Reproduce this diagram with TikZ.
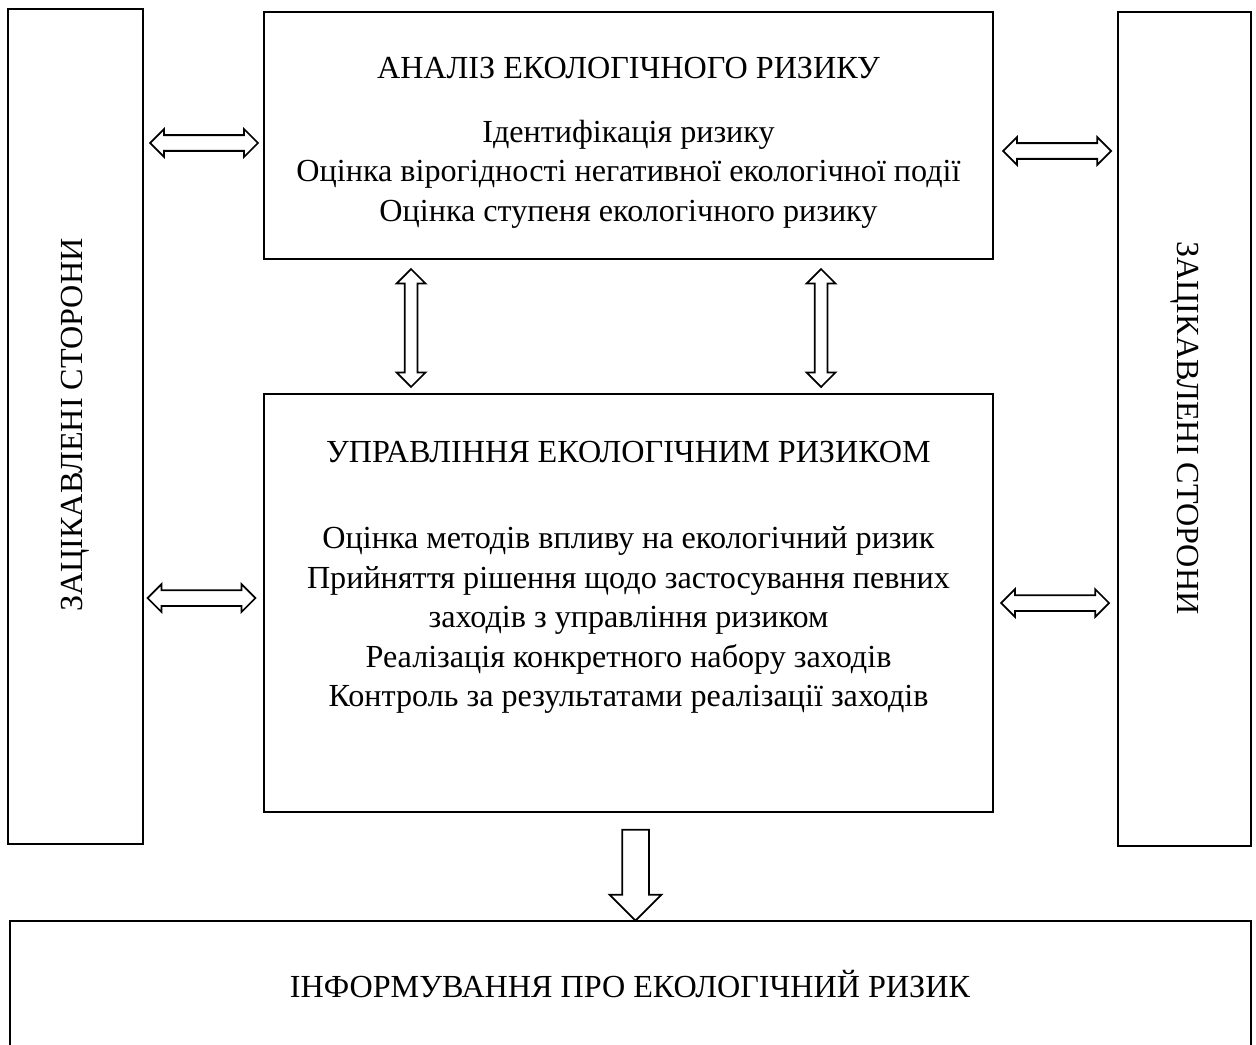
\documentclass[tikz,border=0pt]{standalone}
\usepackage{fontspec}
\setmainfont{Liberation Serif}
\usetikzlibrary{positioning,fit,shapes.arrows}
\tikzset{
  boxb/.style={draw=black, line width=1.1pt, inner sep=0pt},
  txtb/.style={align=center, inner sep=0pt, font=\fontsize{18.3}{22.5}\selectfont},
  harr/.style={draw=black, line width=1pt, double arrow, double arrow head extend=1.2mm,
    inner xsep=0pt, inner ysep=1.4mm, minimum width=0pt, minimum height=21.6mm},
  varr/.style={harr, rotate=90, inner ysep=1.1mm, double arrow head extend=1.6mm,
    minimum height=23.6mm},
  downarr/.style={draw=black, line width=1pt, single arrow, single arrow head extend=2.5mm,
    inner xsep=0pt, inner ysep=2.5mm, minimum width=0pt, minimum height=18.2mm, rotate=-90},
}
\begin{document}
\begin{tikzpicture}[x=0.02cm, y=-0.02cm]
    \path[use as bounding box, clip] (0,0) rectangle (1256,1044);
    \fill[white] (0,0) rectangle (1256,1044);
    % side boxes
    \node[boxb, fit={(8,9) (143,844)}] (lside) {};
    \node[boxb, fit={(1118,12) (1251,846)}] (rside) {};
    \node[txtb, rotate=90] (ltxt) at (75.5,425) {ЗАЦІКАВЛЕНІ СТОРОНИ};
    \node[txtb, rotate=-90] (rtxt) at (1184.5,428) {ЗАЦІКАВЛЕНІ СТОРОНИ};
    % analysis
    \node[boxb, fit={(264,12) (993,259)}] (anal) {};
    \node[txtb] (analt) at (628.5,68) {АНАЛІЗ ЕКОЛОГІЧНОГО РИЗИКУ};
    \node[txtb] (anall) at (628.5,174) {Ідентифікація ризику\\Оцінка вірогідності негативної екологічної події\\Оцінка ступеня екологічного ризику};
    % management
    \node[boxb, fit={(264,394) (993,812)}] (mgmt) {};
    \node[txtb] (mgmtt) at (628.5,452) {УПРАВЛІННЯ ЕКОЛОГІЧНИМ РИЗИКОМ};
    \node[txtb] (mgmtl) at (628.5,620) {Оцінка методів впливу на екологічний ризик\\Прийняття рішення щодо застосування певних\\заходів з управління ризиком\\Реалізація конкретного набору заходів\\Контроль за результатами реалізації заходів};
    % information
    \node[boxb, fit={(10,921) (1251,1060)}] (info) {};
    \node[txtb] (infot) at (630,984) {ІНФОРМУВАННЯ ПРО ЕКОЛОГІЧНИЙ РИЗИК};
    % block arrows
    \node[harr] (la1) at (204,143) {};
    \node[harr] (ra1) at (1057,151) {};
    \node[harr] (la2) at (201.5,598) {};
    \node[harr] (ra2) at (1055,603) {};
    \node[varr] (va1) at (411,328) {};
    \node[varr] (va2) at (821,328) {};
    \node[downarr] (dn) at (635.5,868.5) {};
\end{tikzpicture}
\end{document}
